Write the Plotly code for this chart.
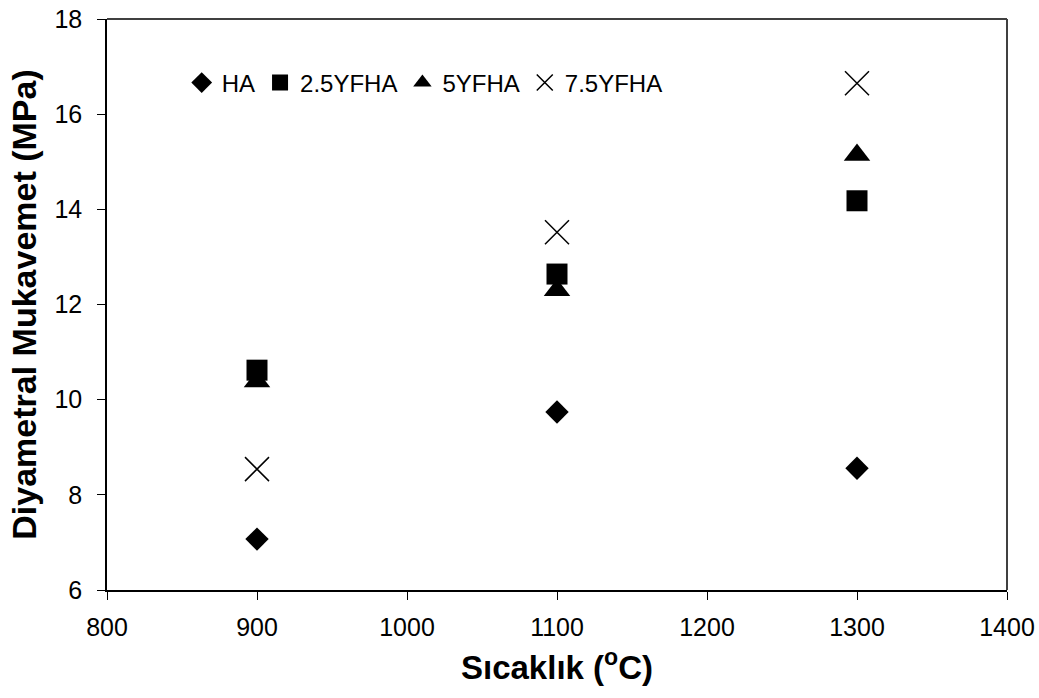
import plotly.graph_objects as go

temps = [900, 1100, 1300]
ha = [7.07, 9.74, 8.56]
yfha25 = [10.62, 12.64, 14.18]
yfha5 = [10.38, 12.30, 15.14]
yfha75 = [8.54, 13.52, 16.65]

series = [
    ("HA", ha, "diamond", 18),
    ("2.5YFHA", yfha25, "square", 21),
    ("5YFHA", yfha5, "triangle-up", 23),
    ("7.5YFHA", yfha75, "x-thin-open", 24),
]

fig = go.Figure()
for name, vals, sym, size in series:
    if sym.startswith("x-thin"):
        marker = dict(symbol=sym, size=size, color="black", line=dict(color="black", width=1.5))
    else:
        marker = dict(symbol=sym, size=size, color="black", line=dict(width=0))
    fig.add_trace(go.Scatter(x=temps, y=vals, mode="markers", name=name, marker=marker))

font_family = "Liberation Sans, Arial, sans-serif"
fig.update_layout(
    width=1039, height=698,
    margin=dict(l=107, r=32, t=19, b=108),
    plot_bgcolor="white", paper_bgcolor="white",
    font=dict(family=font_family, size=24, color="black"),
    showlegend=True,
    legend=dict(orientation="h", x=0.083, y=0.888, xanchor="left", yanchor="middle",
                bgcolor="rgba(0,0,0,0)", font=dict(size=24), itemwidth=30,
                tracegroupgap=0),
    xaxis=dict(range=[800, 1400], dtick=100, tick0=800, showgrid=False, zeroline=False,
               showline=True, linecolor="black", linewidth=1.5, ticks="outside",
               ticklen=8, tickcolor="black", tickfont=dict(size=25), ticklabelstandoff=6,
               automargin=False,
               title=dict(text="<b>Sıcaklık (<sup>o</sup>C)</b>", font=dict(size=33), standoff=16)),
    yaxis=dict(range=[6, 18], dtick=2, tick0=6, showgrid=False, zeroline=False,
               showline=True, linecolor="black", linewidth=1.5, ticks="outside",
               ticklen=8, tickcolor="black", tickfont=dict(size=25), ticklabelstandoff=10,
               automargin=False,
               title=dict(text="<b>Diyametral Mukavemet (MPa)</b>", font=dict(size=34), standoff=8)),
    shapes=[
        dict(type="line", xref="paper", yref="paper", x0=0, x1=1, y0=1, y1=1,
             line=dict(color="#404040", width=2)),
        dict(type="line", xref="paper", yref="paper", x0=1, x1=1, y0=0, y1=1,
             line=dict(color="#404040", width=2)),
    ],
)

fig.write_html("out.html")
